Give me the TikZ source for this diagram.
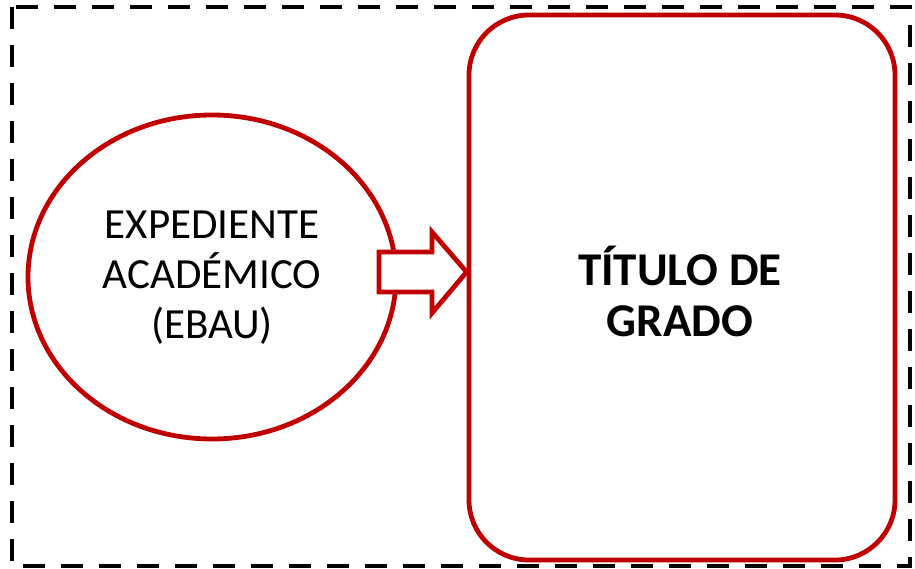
\documentclass[tikz,border=0pt]{standalone}
\usepackage{fontspec}
\setmainfont{Carlito}
\usetikzlibrary{shapes.geometric}
\definecolor{dred}{HTML}{C00000}
\begin{document}
\begin{tikzpicture}[x=1pt,y=-1pt,
  redline/.style={draw=dred,line width=4.8pt},
  txt/.style={align=center,font=\fontsize{43}{50}\selectfont}]
\useasboundingbox (0,0) rectangle (915,569);
\draw[line width=4pt,dash pattern=on 22pt off 16pt] (12,7) rectangle (910,566);
\node[redline,ellipse,minimum width=368pt,minimum height=324pt,inner sep=0pt] (exp) at (212,277) {};
\node[txt] (expt) at (212,278) {EXPEDIENTE\\ACADÉMICO\\(EBAU)};
\node[redline,rectangle,rounded corners=60pt,minimum width=426pt,minimum height=545pt,inner sep=0pt] (tit) at (682,287.5) {};
\node[txt,font=\fontsize{47}{51}\selectfont\bfseries] (titt) at (680,291) {TÍTULO DE\\GRADO};
\draw[draw=dred,line width=4.8pt,fill=white,line join=miter]
  (379,252) -- (432,252) -- (432,232) -- (tit.west |- 0,272) -- (432,313) -- (432,292) -- (379,292) -- cycle;
\end{tikzpicture}
\end{document}
